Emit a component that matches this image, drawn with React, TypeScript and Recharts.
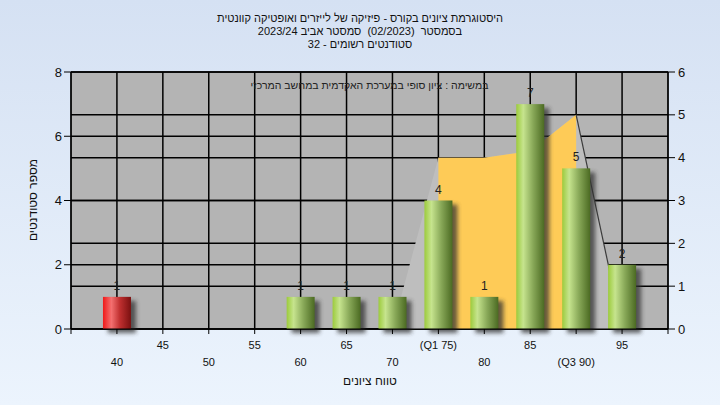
import {
  Area,
  Bar,
  CartesianGrid,
  ComposedChart,
  LabelList,
  XAxis,
  YAxis,
} from 'recharts'

// grade buckets (numeric x axis, padded one step each side)
const categories = [40, 45, 50, 55, 60, 65, 70, 75, 80, 85, 90, 95]
const counts = [1, 0, 0, 0, 1, 1, 1, 4, 1, 7, 5, 2]
// right axis: distribution outline (light) and Q1..Q3 band (yellow)
const rangeTop = [null, null, null, null, null, null, 0, 4, 4, 4.15, 5, 0]
const iqrTop = [null, null, null, null, null, null, null, 4, 4, 4.15, 5, null]
const tailLine = [null, null, null, null, null, null, null, null, null, null, 5, 0]

const xTicks = [35, 40, 45, 50, 55, 60, 65, 70, 75, 80, 85, 90, 95, 100]
const tickNames: Record<number, string> = { 75: '(Q1 75)', 90: '(Q3 90)' }
const leftTicks = [0, 2, 4, 6, 8]
const rightTicks = [0, 1, 2, 3, 4, 5, 6]

const titleLines = [
  'היסטוגרמת ציונים בקורס - פיזיקה של לייזרים ואופטיקה קוונטית',
  'בסמסטר  (02/2023)  סמסטר אביב 2023/24',
  'סטודנטים רשומים - 32',
]
const noteText = 'במשימה : ציון סופי במערכת האקדמית במחשב המרכזי'
const xTitle = 'טווח ציונים'
const yTitle = 'מספר סטודנטים'

const FAIL_BELOW = 55

const data = categories.map((x, i) => ({
  x,
  count: counts[i],
  range: rangeTop[i],
  iqr: iqrTop[i],
  tail: tailLine[i],
}))

const font = '"Liberation Sans", Arial, sans-serif'

const BarShape = (props: any) => {
  const { x, y, width, height, payload } = props
  if (!height || height <= 0) return null
  const fail = payload.x < FAIL_BELOW
  const id = fail ? 'gradRed' : 'gradGreen'
  return (
    <g>
      <defs>
        <linearGradient id="gradGreen" x1="0" y1="0" x2="1" y2="0">
          <stop offset="0%" stopColor="#9ccb3c" />
          <stop offset="25%" stopColor="#c6e48e" />
          <stop offset="60%" stopColor="#88a858" />
          <stop offset="100%" stopColor="#4b6a22" />
        </linearGradient>
        <linearGradient id="gradRed" x1="0" y1="0" x2="1" y2="0">
          <stop offset="0%" stopColor="#f01818" />
          <stop offset="30%" stopColor="#f47070" />
          <stop offset="60%" stopColor="#c03030" />
          <stop offset="100%" stopColor="#7a1010" />
        </linearGradient>
        <filter id="barShadow" x="-50%" y="-50%" width="200%" height="200%">
          <feGaussianBlur stdDeviation="2" />
        </filter>
      </defs>
      <rect x={x + 5} y={y + 4} width={width} height={height} fill="#333" opacity={0.75} filter="url(#barShadow)" />
      <rect x={x} y={y} width={width} height={height} fill={`url(#${id})`} />
    </g>
  )
}

const BarLabel = (props: any) => {
  const { x, y, width, value } = props
  if (!value) return null
  return (
    <text x={x + width / 2} y={y - 7} textAnchor="middle" fontSize={12} fontFamily={font} fill="#222">
      {value}
    </text>
  )
}

const XTick = (props: any) => {
  const { x, y, payload } = props
  const v = payload.value
  if (v === 35 || v === 100) return null
  const upper = (v / 5) % 2 === 1
  return (
    <text x={x} y={upper ? y + 13 : y + 30} textAnchor="middle" fontSize={11} fontFamily={font} fill="#111">
      {tickNames[v] ?? String(v)}
    </text>
  )
}

export default function App() {
  return (
    <div
      style={{
        position: 'absolute',
        left: 0,
        top: 0,
        width: 720,
        height: 405,
        background: 'linear-gradient(180deg, #d5e1f3 0%, #ecf4fd 100%)',
        fontFamily: font,
        overflow: 'hidden',
      }}
    >
      <div style={{ position: 'absolute', left: 0, top: 0 }}>
        <ComposedChart
          width={720}
          height={405}
          data={data}
          margin={{ top: 72, right: 12, bottom: 16, left: 31 }}
        >
          <CartesianGrid
            yAxisId="left"
            stroke="#000"
            strokeWidth={1.5}
            fill="#b4b4b4"
            fillOpacity={1}
            horizontal={true}
            vertical={true}
          />
          <CartesianGrid yAxisId="right" stroke="#000" strokeWidth={1.5} vertical={false} />
          <XAxis
            type="number"
            dataKey="x"
            domain={[35, 100]}
            ticks={xTicks}
            interval={0}
            tick={<XTick />}
            tickSize={5}
            height={60}
            stroke="#000"
            allowDataOverflow
          />
          <YAxis
            yAxisId="left"
            domain={[0, 8]}
            ticks={leftTicks}
            interval={0}
            width={40}
            tickSize={7}
            tickMargin={2}
            stroke="#000"
            tick={{ fontSize: 13, fill: '#111', fontFamily: font }}
          />
          <YAxis
            yAxisId="right"
            orientation="right"
            domain={[0, 6]}
            ticks={rightTicks}
            interval={0}
            width={40}
            tickSize={7}
            tickMargin={3}
            stroke="#000"
            tick={{ fontSize: 13, fill: '#111', fontFamily: font, textAnchor: 'start' }}
          />
          <Area
            yAxisId="right"
            dataKey="range"
            type="linear"
            fill="#bebebe"
            fillOpacity={1}
            stroke="none"
            dot={false}
            activeDot={false}
            isAnimationActive={false}
          />
          <Area
            yAxisId="right"
            dataKey="iqr"
            type="linear"
            fill="#fecb57"
            fillOpacity={1}
            stroke="none"
            dot={false}
            activeDot={false}
            isAnimationActive={false}
          />
          <Area
            yAxisId="right"
            dataKey="tail"
            type="linear"
            fill="none"
            fillOpacity={0}
            stroke="#3c3c3c"
            strokeWidth={1.2}
            dot={false}
            activeDot={false}
            isAnimationActive={false}
          />
          <Bar yAxisId="left" dataKey="count" barSize={28} shape={<BarShape />} isAnimationActive={false}>
            <LabelList dataKey="count" content={<BarLabel />} />
          </Bar>
        </ComposedChart>
      </div>

      <div
        dir="rtl"
        style={{
          position: 'absolute',
          left: 0,
          top: 12,
          width: 720,
          textAlign: 'center',
          fontSize: 11,
          lineHeight: '13px',
          color: '#111',
          whiteSpace: 'pre',
        }}
      >
        {titleLines.map((t) => (
          <div key={t}>{t}</div>
        ))}
      </div>

      <div
        dir="rtl"
        style={{
          position: 'absolute',
          left: 71,
          top: 79,
          width: 597,
          textAlign: 'center',
          fontSize: 10.5,
          color: '#222',
        }}
      >
        {noteText}
      </div>

      <div
        dir="rtl"
        style={{
          position: 'absolute',
          left: 270,
          top: 374,
          width: 200,
          textAlign: 'center',
          fontSize: 12,
          color: '#111',
        }}
      >
        {xTitle}
      </div>

      <div
        dir="rtl"
        style={{
          position: 'absolute',
          left: 33 - 60,
          top: 193,
          width: 120,
          textAlign: 'center',
          fontSize: 12,
          color: '#111',
          transform: 'rotate(-90deg)',
        }}
      >
        {yTitle}
      </div>
    </div>
  )
}
